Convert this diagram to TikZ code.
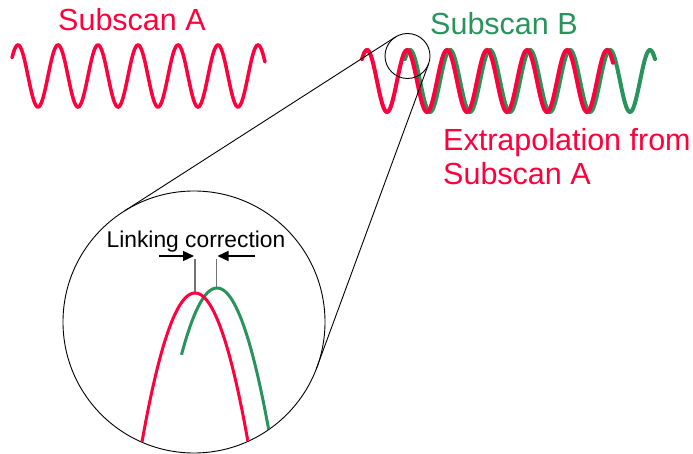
\documentclass[tikz,border=0pt]{standalone}
\usepackage{fontspec}
\setmainfont{Liberation Sans}
\usetikzlibrary{arrows.meta}
\definecolor{wred}{RGB}{255,0,60}
\definecolor{wgreen}{RGB}{40,148,92}
\begin{document}
\begin{tikzpicture}[x=1pt,y=-1pt,
  bigtext/.style={font=\fontsize{30.5}{33}\selectfont, inner sep=0pt, anchor=base west},
  smalltext/.style={font=\fontsize{22.8}{25}\selectfont, inner sep=0pt, anchor=base},
  lens/.style={circle, draw=black, line width=0.9pt, inner sep=0pt, outer sep=0pt},
  tangent/.style={draw=black, line width=0.9pt},
  marker/.style={draw=black!55, line width=1.4pt},
  pointer/.style={line width=1.3pt, -{Triangle[length=11pt,width=10pt]}},
  waveA/.style={wred, line width=3.5pt, line cap=round},
  waveB/.style={line width=4pt, line cap=round},
  zoomwave/.style={line width=3pt, line cap=round}]
\useasboundingbox (0,0) rectangle (693,454);

% labels
\node[bigtext, text=wred] (lblA) at (58,30.5) {Subscan A};
\node[bigtext, text=wgreen] (lblB) at (430,35) {Subscan B};
\node[bigtext, text=wred] (lblE1) at (443,151) {Extrapolation from};
\node[bigtext, text=wred] (lblE2) at (443,185) {Subscan A};

% Subscan A wave
\draw[waveA] plot[domain=12:265, samples=220] (\x, {76-31*cos(9*(\x-18))});

% Subscan B (green) and extrapolation (red)
\draw[waveB, wgreen] plot[domain=405:655, samples=220] (\x, {81-31*cos(9*(\x-410))});
\draw[waveB, wred] plot[domain=362:613, samples=220] (\x, {81-31*cos(9*(\x-367))});

% magnifier circles
\node[lens, minimum size=45pt] (small) at (407.5,56) {};
\node[lens, minimum size=262pt] (big) at (194,322) {};
\draw[tangent] (big.122.7) -- (small.122.7);
\draw[tangent] (big.339.8) -- (small.339.8);

% zoomed view
\begin{scope}
  \clip (194,322) circle (130.5pt);
  \draw[zoomwave, wgreen, line cap=butt] plot[domain=181.5:280, samples=120] (\x, {288+0.053*(\x-217)^2});
  \draw[zoomwave, wred] plot[domain=135:256, samples=120] (\x, {293+0.053*(\x-195)^2});
\end{scope}

% linking correction
\node[smalltext] (lblL) at (196,248) {Linking correction};
\coordinate (rtop) at (195,259);
\coordinate (rpeak) at (195,292);
\coordinate (gtop) at (216.7,259);
\coordinate (gpeak) at (216.7,287);
\draw[marker] (rtop) -- (rpeak);
\draw[marker] (gtop) -- (gpeak);
\coordinate (la) at (159,256);
\coordinate (lb) at (194,256);
\coordinate (ra) at (255,256);
\coordinate (rb) at (217.5,256);
\draw[pointer] (la) -- (lb);
\draw[pointer] (ra) -- (rb);
\end{tikzpicture}
\end{document}
